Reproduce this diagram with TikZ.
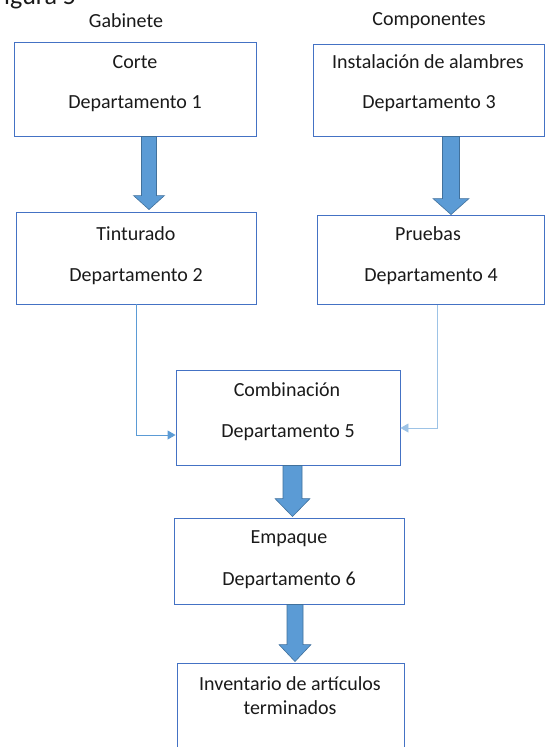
\documentclass[tikz,border=0pt]{standalone}
\usepackage{fontspec}
\setmainfont{Carlito}
\usetikzlibrary{calc,arrows.meta}

\definecolor{boxline}{HTML}{4472C4}
\definecolor{arrowfill}{HTML}{5B9BD5}
\definecolor{arrowedge}{HTML}{41719C}
\definecolor{linkdark}{HTML}{5B9BD5}
\definecolor{linklight}{HTML}{9DC3E6}
\definecolor{txt}{HTML}{1A1A1A}

\tikzset{
  box/.style n args={2}{draw=boxline, line width=0.9bp, minimum width=#1,
    minimum height=#2, inner sep=0pt},
  lbl/.style={font=\fontsize{20bp}{24bp}\selectfont, text=txt, inner sep=0pt,
    align=center},
  blockarrow/.style={fill=arrowfill, draw=arrowedge, line width=0.6bp,
    line join=miter},
  link/.style={line width=0.9bp, -{Triangle[length=8bp,width=9bp]}},
}

% vertical block arrow: start point, end point, shaft half width,
% head half width, head length
\newcommand\blkarrow[5]{%
  \filldraw[blockarrow] let \p1=(#1), \p2=(#2) in
    (\x1-#3,\y1) -- (\x1+#3,\y1) -- (\x1+#3,\y2+#5) -- (\x1+#4,\y2+#5)
    -- (\x1,\y2) -- (\x1-#4,\y2+#5) -- (\x1-#3,\y2+#5) -- cycle;}

\begin{document}
\begin{tikzpicture}[x=1bp, y=-1bp]
  \clip (0,0) rectangle (545,747);
  \fill[white] (0,0) rectangle (545,747);

  % headings
  \node[lbl, font=\fontsize{26bp}{30bp}\selectfont, anchor=base west] (fig) at (-8,5) {Figura 5};
  \node[lbl] (gab) at (126,21) {Gabinete};
  \node[lbl] (comp) at (429,21) {Componentes};

  % department boxes
  \node[box={242bp}{94bp}] (d1) at (135,89) {};
  \node[box={231bp}{92bp}] (d3) at (428.5,90) {};
  \node[box={240bp}{92bp}] (d2) at (136,258) {};
  \node[box={227bp}{89bp}] (d4) at (430.5,259.5) {};
  \node[box={224bp}{95bp}] (d5) at (288,417.5) {};
  \node[box={230bp}{86bp}] (d6) at (289,561) {};
  \node[box={227bp}{97bp}] (d7) at (290.5,711.5) {};

  % box texts
  \node[lbl] (t1a) at (135,62) {Corte};
  \node[lbl] (t1b) at (135,104) {Departamento 1};
  \node[lbl] (t3a) at (428,62) {Instalación de alambres};
  \node[lbl] (t3b) at (429,104) {Departamento 3};
  \node[lbl] (t2a) at (136,234) {Tinturado};
  \node[lbl] (t2b) at (136,277) {Departamento 2};
  \node[lbl] (t4a) at (428,234) {Pruebas};
  \node[lbl] (t4b) at (431,277) {Departamento 4};
  \node[lbl] (t5a) at (287,390) {Combinación};
  \node[lbl] (t5b) at (288,433) {Departamento 5};
  \node[lbl] (t6a) at (289,539) {Empaque};
  \node[lbl] (t6b) at (289,580) {Departamento 6};
  \node[lbl] (t7a) at (290,684) {Inventario de artículos};
  \node[lbl] (t7b) at (290,708) {terminados};

  % block arrows between departments
  \blkarrow{[xshift=14bp]d1.south}{[xshift=14bp,yshift=2bp]d2.north}{7.5bp}{15.5bp}{14bp}
  \blkarrow{[xshift=22.5bp]d3.south}{[xshift=22.5bp]d4.north}{8.5bp}{18bp}{16bp}
  \blkarrow{[xshift=4.5bp]d5.south}{[xshift=4.5bp,yshift=1bp]d6.north}{9.5bp}{17.5bp}{18bp}
  \blkarrow{[xshift=6bp]d6.south}{[xshift=6bp,yshift=1bp]d7.north}{8bp}{16bp}{17bp}

  % thin connectors into the combination department
  \draw[link, linkdark] (d2.south) |- ([yshift=-17.5bp]d5.west);
  \draw[link, linklight] ([xshift=6.5bp]d4.south) |- ([yshift=-10.5bp]d5.east);
  \draw[line width=1.6bp, boxline] ([xshift=6.5bp]d4.south) -- ([xshift=44.5bp]d4.south);
\end{tikzpicture}
\end{document}
